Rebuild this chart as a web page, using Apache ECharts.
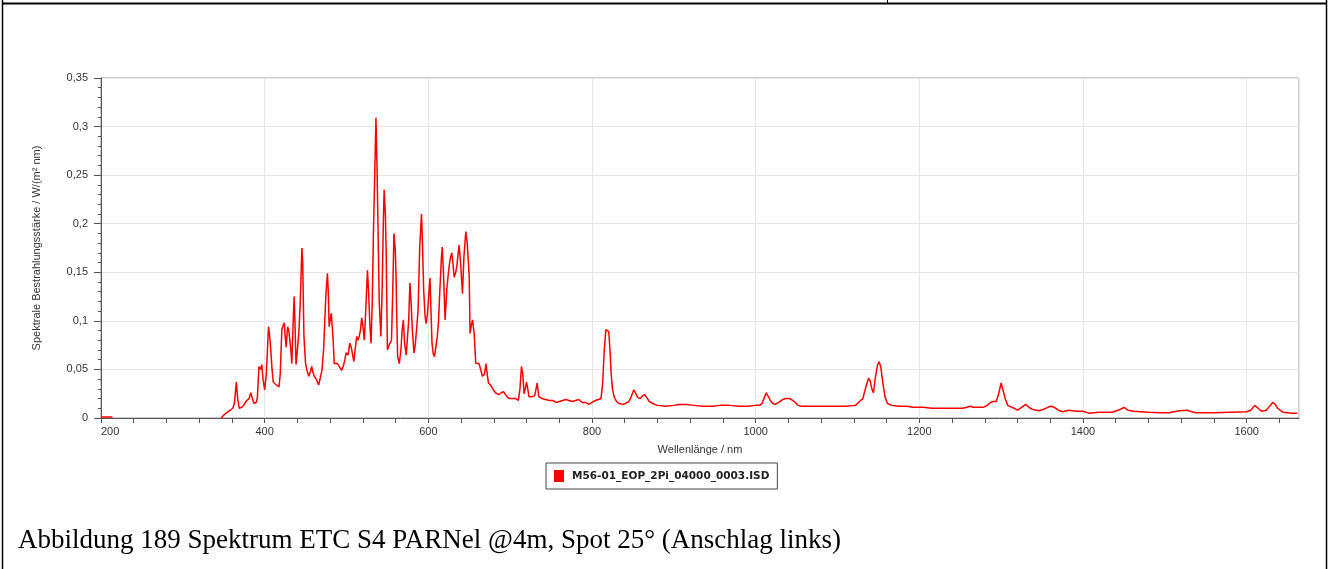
<!DOCTYPE html>
<html>
<head>
<meta charset="utf-8">
<script src="https://cdn.jsdelivr.net/npm/echarts@6/dist/echarts.min.js"></script>
<style>
html,body{margin:0;padding:0;background:#fff;}
#chart{width:1329px;height:569px;}
</style>
</head>
<body>
<div id="chart"></div>
<script>
// Wavelength (nm) and spectral irradiance (W/(m² nm)); null = gap
const wavelengths = [
200,205,210,214,280,
347,350,353,355,358,361,363,365.4,367,369,372,375,378,381,383,385,387,389.5,391,393,395,396.5,398,400,402,
404.7,406,407.5,409,410.5,413,415,417.5,419,421,422.5,424,425,426.3,428,429.5,431,432,433.2,434.5,436,437,
438.3,440,442,443.5,445.5,446.5,448,450,452,454,456,457.5,459,460.5,463,466,468,470,472,474.7,476.7,477.8,
478.8,480,481.5,482.5,483.7,485,487,489,491,494,496,498,499.5,502,504,506,509,510.5,512.5,514,515.5,517,
518.6,520,521.8,523.5,525.6,527,528.5,530,531.5,533,534.5,536,537.5,538.8,540,542,543.5,545,546,547.5,548.5,
550,552,553.5,555,556.5,558,559.5,560.5,561.5,562.5,564.5,566.5,568,569.5,571,573,574.5,576,577.5,579,580.5,
582.5,584,586,587.5,589.5,591.7,593,594.3,596,597.3,599,600.5,602,603.3,604.5,606,607.5,609,611,612.5,614,
616,617,618.5,620.5,622.6,624,625.4,627,628.7,630,631.6,633.5,634.8,636.5,637.6,639.5,641.7,643.5,645.8,
647.5,649,650,651,652.5,654,656,658,660,662,664,666,668.5,670.5,672,673.5,676,678,682,686,689,692,696,699,
703,707,710,712,713.8,715.5,717,718.5,720,721.5,723,727,730,733,735,739,743,748,752,756,760,764,768,772,776,
780,784,788,792,796,800,804,808,811,813,815,817,819,820.5,822,823.5,825,827,830,833,837,841,845,848,851,853,
856,859,862,864.7,867,870,874,880,890,900,906,915,925,935,947,957,968,980,990,1000,1005,1008,1011,1013,1015,
1018,1021,1024,1028,1033,1037,1042,1047,1052,1056,1070,1090,1110,1122,1127,1131,1135,1138,1140,1142,1144,
1146,1149,1151,1153,1155,1158,1161,1166,1175,1185,1192,1205,1215,1225,1240,1253,1258,1262,1266,1272,1278,
1283,1287,1290,1294,1297,1300,1302,1305,1308,1313,1316,1320,1325,1330,1334,1338,1346,1352,1357,1361,1365,
1370,1375,1383,1392,1400,1407,1420,1436,1446,1450,1455,1462,1480,1495,1505,1518,1528,1533,1538,1560,1580,
1600,1605,1610,1614,1618,1624,1629,1632,1635,1638,1644,1655,1662
];
const irradiance = [
0.001,0.001,0.001,0.001,null,
0.000,0.003,0.005,0.006,0.008,0.010,0.015,0.037,0.020,0.010,0.011,0.014,0.018,0.020,0.026,0.020,0.015,0.016,0.020,0.053,0.050,0.055,0.040,0.029,0.045,
0.094,0.085,0.070,0.050,0.037,0.035,0.036,0.032,0.045,0.091,0.095,0.098,0.085,0.073,0.094,0.090,0.091,0.070,0.056,0.090,0.125,0.100,
0.055,0.070,0.091,0.120,0.175,0.160,0.084,0.056,0.048,0.043,0.048,0.053,0.047,0.043,0.040,0.034,0.036,0.049,0.070,0.125,0.149,0.130,
0.094,0.095,0.108,0.095,0.080,0.056,0.055,0.056,0.054,0.049,0.053,0.060,0.067,0.065,0.077,0.072,0.058,0.070,0.084,0.080,0.084,0.090,
0.103,0.095,0.080,0.110,0.152,0.130,0.097,0.077,0.120,0.194,0.250,0.309,0.250,0.180,0.120,0.084,0.130,0.200,0.235,0.210,0.170,
0.070,0.075,0.073,0.080,0.130,0.190,0.175,0.149,0.100,0.063,0.056,0.070,0.090,0.101,0.077,0.065,0.063,0.100,0.139,0.118,0.090,
0.067,0.075,0.095,0.111,0.176,0.210,0.175,0.132,0.105,0.097,0.108,0.110,0.144,0.110,0.077,0.066,0.063,0.072,0.084,0.100,0.130,
0.165,0.176,0.149,0.101,0.132,0.145,0.156,0.165,0.170,0.160,0.145,0.150,0.156,0.170,0.178,0.159,0.128,0.166,0.192,
0.180,0.160,0.145,0.087,0.095,0.101,0.087,0.056,0.056,0.056,0.050,0.043,0.045,0.056,0.045,0.036,0.034,0.031,0.026,0.024,0.026,0.027,0.022,0.020,
0.020,0.020,0.018,0.030,0.053,0.045,0.025,0.030,0.037,0.030,0.022,0.022,0.023,0.036,0.022,0.020,0.019,0.018,0.018,0.016,0.017,0.018,0.019,0.018,0.017,
0.018,0.019,0.016,0.016,0.014,0.016,0.018,0.019,0.020,0.035,0.070,0.091,0.093,0.089,0.070,0.045,0.030,0.022,0.017,0.015,0.014,0.015,0.017,0.022,0.029,0.026,
0.021,0.020,0.023,0.024,0.021,0.017,0.015,0.013,0.012,0.013,0.014,0.014,0.013,0.012,0.012,0.013,0.013,0.012,0.012,0.013,0.013,0.015,0.022,0.026,0.024,
0.018,0.015,0.014,0.016,0.019,0.020,0.020,0.017,0.013,0.012,0.012,0.012,0.012,0.013,0.017,0.020,0.033,0.041,0.038,0.030,0.026,
0.040,0.055,0.058,0.052,0.039,0.022,0.015,0.013,0.012,0.012,0.011,0.011,0.010,0.010,0.010,0.010,0.011,0.012,0.011,0.011,0.011,
0.013,0.016,0.017,0.017,0.025,0.036,0.035,0.020,0.013,0.011,0.010,0.008,0.011,0.014,0.011,0.009,0.0075,0.009,0.011,0.012,0.011,
0.008,0.0065,0.008,0.007,0.007,0.005,0.006,0.006,0.009,0.011,0.008,0.007,0.006,0.0055,0.0055,0.0075,0.008,0.0065,0.0055,0.0055,0.006,
0.0065,0.008,0.013,0.010,0.007,0.008,0.013,0.016,0.014,0.010,0.006,0.005,0.005
];
const xTickLabels = [200,400,600,800,1000,1200,1400,1600];
const xMinorTicks = [200,240,280,320,360,400,440,480,520,560,600,640,680,720,760,800,840,880,920,960,1000,1040,1080,1120,1160,1200,1240,1280,1320,1360,1400,1440,1480,1520,1560,1600,1640];
const yTickLabels = ['0','0,05','0,1','0,15','0,2','0,25','0,3','0,35'];
const seriesName = 'M56-01_EOP_2Pi_04000_0003.ISD';
const xName = 'Wellenlänge / nm';
const yName = 'Spektrale Bestrahlungsstärke / W/(m² nm)';
const caption = 'Abbildung 189 Spektrum ETC S4 PARNel @4m, Spot 25° (Anschlag links)';

const points = wavelengths.map((w, i) => [w, irradiance[i]]);
const axisFont = 'Liberation Sans, Arial, sans-serif';

const chart = echarts.init(document.getElementById('chart'), null, {renderer: 'canvas'});
chart.setOption({
  animation: false,
  backgroundColor: '#fff',
  grid: {left: 101, right: 30, top: 78, bottom: 151, show: true, borderColor: '#999', borderWidth: 1, backgroundColor: 'transparent'},
  legend: {
    left: 546, top: 463,
    data: [seriesName],
    icon: 'rect', itemWidth: 10, itemHeight: 12,
    borderColor: '#444', borderWidth: 1, borderRadius: 0,
    padding: [7, 8, 7, 8],
    textStyle: {fontFamily: 'DejaVu Sans, sans-serif', fontWeight: 'bold', fontSize: 10.5, color: '#222', padding: [0, 0, 0, 3]}
  },
  xAxis: [{
    type: 'value', min: 200, max: 1664, interval: 200, position: 'bottom',
    name: xName, nameLocation: 'middle', nameGap: 26,
    nameTextStyle: {fontFamily: axisFont, fontSize: 11, color: '#333'},
    axisLine: {show: true, onZero: false, lineStyle: {color: '#555', width: 1}},
    axisTick: {show: false},
    axisLabel: {customValues: xTickLabels, margin: 8, fontFamily: axisFont, fontSize: 11, color: '#333',
      alignMinLabel: 'left', formatter: (v) => String(v)},
    splitLine: {show: true, lineStyle: {color: '#e6e6e6', width: 1}}
  }, {
    type: 'value', min: 200, max: 1664, position: 'bottom', offset: 0,
    axisLine: {show: false, onZero: false},
    axisTick: {show: true, customValues: xMinorTicks, length: 5, lineStyle: {color: '#555'}},
    axisLabel: {show: false},
    splitLine: {show: false}
  }],
  yAxis: {
    type: 'value', min: 0, max: 0.35, interval: 0.05,
    name: yName, nameLocation: 'middle', nameGap: 59, nameRotate: 90,
    nameTextStyle: {fontFamily: axisFont, fontSize: 11, color: '#333'},
    axisLine: {show: true, lineStyle: {color: '#555', width: 1}},
    axisTick: {show: true, length: 7, lineStyle: {color: '#555'}},
    minorTick: {show: true, splitNumber: 5, length: 3, lineStyle: {color: '#555'}},
    axisLabel: {margin: 13, fontFamily: axisFont, fontSize: 11, color: '#333',
      formatter: (v) => yTickLabels[Math.round(v / 0.05)]},
    splitLine: {show: true, lineStyle: {color: '#e6e6e6', width: 1}}
  },
  series: [{
    name: seriesName, type: 'line', xAxisIndex: 0, data: points,
    showSymbol: false, symbol: 'none', connectNulls: false,
    lineStyle: {color: '#ff0000', width: 1.5}, itemStyle: {color: '#ff0000'}
  }],
  graphic: [
    {type: 'line', shape: {x1: 2, y1: 3.5, x2: 1327, y2: 3.5}, style: {stroke: '#000', lineWidth: 2}},
    {type: 'line', shape: {x1: 2.5, y1: 0, x2: 2.5, y2: 569}, style: {stroke: '#000', lineWidth: 1.5}},
    {type: 'line', shape: {x1: 1326.5, y1: 0, x2: 1326.5, y2: 569}, style: {stroke: '#000', lineWidth: 1.5}},
    {type: 'line', shape: {x1: 887.5, y1: 0, x2: 887.5, y2: 3}, style: {stroke: '#000', lineWidth: 1}},
    {type: 'text', left: 18, top: 527, style: {text: caption, font: '27px "Liberation Serif", "Times New Roman", serif', fill: '#000'}}
  ]
});
</script>
</body>
</html>
